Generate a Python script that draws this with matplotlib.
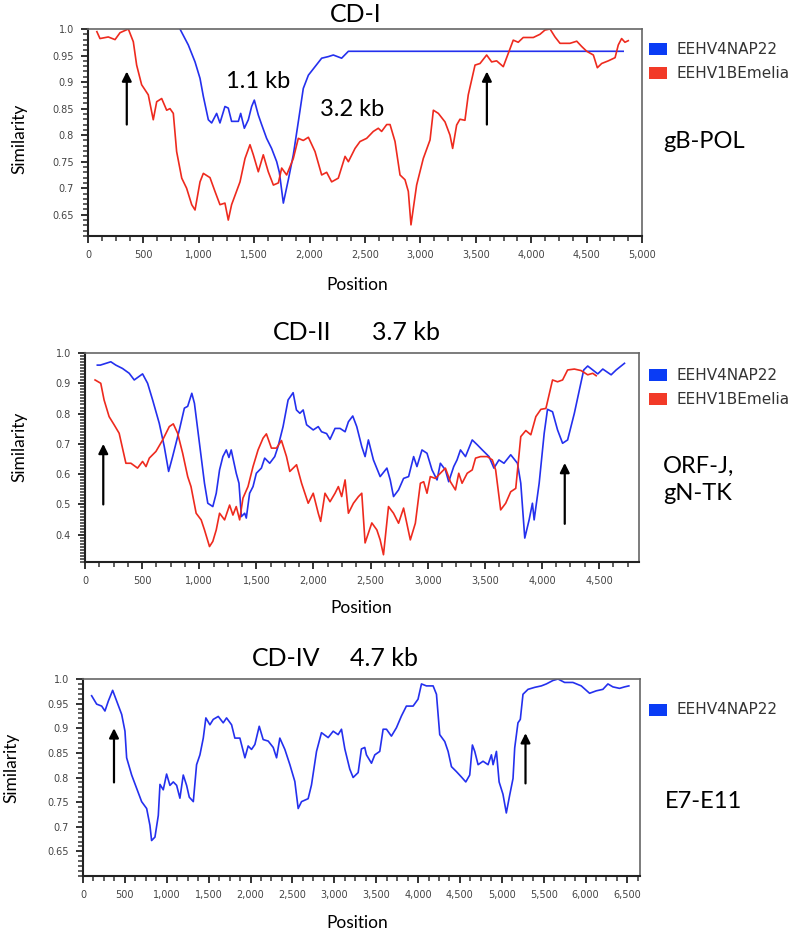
import matplotlib
matplotlib.use("Agg")
import matplotlib.pyplot as plt
from matplotlib.ticker import MultipleLocator, FuncFormatter, FixedLocator
from matplotlib.patches import Rectangle

# ---------------- data ----------------
# Panel CD-I (gB-POL)
cd1_blue_x = [830, 905, 966, 1011, 1041, 1086, 1116, 1161, 1191, 1236, 1266, 1296, 1357, 1378, 1411, 1447,
              1477, 1501, 1537, 1567, 1612, 1657, 1703, 1727, 1763, 1808, 1853, 1898, 1943, 1989, 2049,
              2109, 2169, 2214, 2289, 2350, 4830]
cd1_blue_y = [1.0, 0.97, 0.938, 0.907, 0.873, 0.829, 0.823, 0.841, 0.823, 0.854, 0.851, 0.826, 0.826, 0.841,
              0.813, 0.829, 0.854, 0.866, 0.838, 0.82, 0.794, 0.775, 0.75, 0.73, 0.672, 0.716, 0.763, 0.825,
              0.888, 0.913, 0.929, 0.945, 0.948, 0.951, 0.945, 0.958, 0.958]
cd1_red_x = [80, 108, 183, 244, 289, 364, 409, 439, 484, 544, 589, 620, 665, 710, 740, 770, 800, 846, 890,
             936, 966, 1011, 1041, 1101, 1146, 1191, 1236, 1266, 1296, 1372, 1417, 1462, 1492, 1537, 1582,
             1627, 1673, 1718, 1748, 1793, 1853, 1898, 1943, 1989, 2049, 2109, 2154, 2199, 2259, 2320,
             2350, 2410, 2455, 2515, 2575, 2620, 2650, 2696, 2726, 2771, 2816, 2861, 2891, 2915, 2936,
             2966, 3026, 3087, 3117, 3162, 3222, 3267, 3291, 3327, 3357, 3402, 3432, 3493, 3538, 3598,
             3643, 3688, 3748, 3793, 3838, 3883, 3928, 4019, 4079, 4124, 4170, 4215, 4260, 4350, 4411,
             4456, 4501, 4561, 4597, 4636, 4696, 4757, 4786, 4816, 4846, 4876]
cd1_red_y = [0.995, 0.982, 0.985, 0.98, 0.993, 1.0, 0.976, 0.932, 0.895, 0.876, 0.829, 0.863, 0.869, 0.847,
             0.85, 0.841, 0.769, 0.719, 0.70, 0.669, 0.659, 0.712, 0.728, 0.72, 0.694, 0.669, 0.672, 0.64,
             0.669, 0.712, 0.756, 0.782, 0.763, 0.731, 0.763, 0.731, 0.706, 0.71, 0.738, 0.725, 0.756,
             0.794, 0.79, 0.796, 0.769, 0.725, 0.73, 0.712, 0.719, 0.76, 0.75, 0.775, 0.788, 0.794, 0.807,
             0.813, 0.807, 0.82, 0.82, 0.788, 0.725, 0.716, 0.694, 0.631, 0.662, 0.706, 0.756, 0.791,
             0.847, 0.841, 0.825, 0.80, 0.775, 0.819, 0.83, 0.828, 0.876, 0.932, 0.935, 0.951, 0.938,
             0.94, 0.929, 0.954, 0.979, 0.975, 0.984, 0.984, 0.99, 0.998, 1.0, 0.985, 0.973, 0.973,
             0.977, 0.967, 0.958, 0.951, 0.927, 0.935, 0.94, 0.946, 0.97, 0.982, 0.975, 0.978]

# Panel CD-II (ORF-J, gN-TK)
cd2_blue_x = [108, 134, 226, 270, 328, 387, 431, 504, 548, 592, 650, 694, 732, 767, 826, 870, 899, 935,
              958, 1002, 1046, 1075, 1119, 1149, 1178, 1207, 1237, 1260, 1280, 1324, 1348, 1369, 1398,
              1412, 1441, 1471, 1500, 1544, 1573, 1617, 1661, 1690, 1734, 1778, 1822, 1851, 1881, 1910,
              1940, 1998, 2042, 2071, 2115, 2145, 2189, 2233, 2277, 2306, 2344, 2379, 2423, 2452, 2481,
              2525, 2584, 2643, 2672, 2701, 2745, 2789, 2833, 2877, 2906, 2950, 2994, 3038, 3082, 3111,
              3155, 3184, 3228, 3257, 3287, 3331, 3390, 3434, 3478, 3537, 3580, 3624, 3668, 3727, 3786,
              3815, 3850, 3888, 3917, 3932, 3976, 4020, 4049, 4093, 4137, 4181, 4225, 4284, 4328, 4366,
              4401, 4445, 4489, 4533, 4606, 4650, 4723]
cd2_blue_y = [0.96, 0.96, 0.971, 0.96, 0.949, 0.933, 0.911, 0.931, 0.90, 0.845, 0.768, 0.691, 0.609, 0.658,
              0.746, 0.818, 0.824, 0.867, 0.834, 0.702, 0.57, 0.504, 0.493, 0.537, 0.614, 0.658, 0.68,
              0.655, 0.68, 0.603, 0.57, 0.46, 0.471, 0.455, 0.537, 0.559, 0.603, 0.62, 0.653, 0.636,
              0.658, 0.691, 0.757, 0.845, 0.869, 0.812, 0.801, 0.812, 0.763, 0.746, 0.757, 0.74, 0.734,
              0.715, 0.751, 0.751, 0.74, 0.773, 0.792, 0.757, 0.691, 0.658, 0.713, 0.647, 0.592, 0.62,
              0.581, 0.526, 0.548, 0.586, 0.592, 0.658, 0.625, 0.68, 0.669, 0.614, 0.581, 0.636, 0.614,
              0.575, 0.625, 0.647, 0.68, 0.658, 0.713, 0.697, 0.68, 0.658, 0.62, 0.647, 0.636, 0.664,
              0.636, 0.57, 0.389, 0.449, 0.504, 0.449, 0.57, 0.735, 0.814, 0.806, 0.746, 0.702, 0.713,
              0.801, 0.878, 0.944, 0.957, 0.944, 0.931, 0.947, 0.928, 0.944, 0.966]
cd2_red_x = [88, 138, 167, 211, 255, 299, 358, 402, 460, 504, 534, 563, 621, 680, 738, 773, 811, 855, 899,
             928, 973, 1017, 1046, 1090, 1119, 1149, 1178, 1222, 1266, 1295, 1324, 1354, 1383, 1427, 1471,
             1515, 1559, 1588, 1632, 1676, 1720, 1764, 1793, 1852, 1896, 1954, 1998, 2042, 2063, 2101,
             2145, 2189, 2218, 2247, 2277, 2306, 2350, 2394, 2423, 2452, 2511, 2555, 2584, 2613, 2657,
             2701, 2745, 2789, 2848, 2892, 2936, 2965, 2994, 3023, 3067, 3111, 3155, 3199, 3243, 3272,
             3301, 3346, 3390, 3419, 3463, 3522, 3566, 3595, 3639, 3683, 3727, 3771, 3815, 3859, 3903,
             3947, 3991, 4035, 4093, 4137, 4181, 4225, 4284, 4343, 4401, 4445, 4475]
cd2_red_y = [0.911, 0.90, 0.845, 0.79, 0.763, 0.735, 0.636, 0.636, 0.62, 0.642, 0.625, 0.653, 0.675, 0.713,
             0.757, 0.766, 0.735, 0.669, 0.592, 0.559, 0.471, 0.449, 0.416, 0.361, 0.378, 0.416, 0.471,
             0.449, 0.498, 0.465, 0.493, 0.449, 0.521, 0.559, 0.625, 0.68, 0.719, 0.733, 0.686, 0.686,
             0.711, 0.658, 0.609, 0.631, 0.57, 0.504, 0.537, 0.471, 0.444, 0.537, 0.509, 0.537, 0.559,
             0.526, 0.581, 0.471, 0.504, 0.526, 0.537, 0.373, 0.439, 0.416, 0.383, 0.334, 0.493, 0.471,
             0.438, 0.488, 0.383, 0.438, 0.57, 0.575, 0.537, 0.592, 0.586, 0.603, 0.62, 0.575, 0.548,
             0.603, 0.57, 0.603, 0.614, 0.653, 0.658, 0.658, 0.647, 0.614, 0.482, 0.504, 0.542, 0.553,
             0.724, 0.744, 0.73, 0.79, 0.814, 0.817, 0.911, 0.905, 0.911, 0.944, 0.947, 0.942, 0.928,
             0.933, 0.925]

# Panel CD-IV (E7-E11)
cd4_blue_x = [103, 163, 223, 262, 302, 354, 402, 462, 501, 521, 581, 641, 700, 760, 799, 819, 859, 899,
              919, 958, 998, 1038, 1078, 1118, 1157, 1197, 1237, 1269, 1317, 1356, 1396, 1436, 1467, 1515,
              1555, 1615, 1674, 1714, 1774, 1813, 1873, 1933, 1972, 2012, 2052, 2104, 2151, 2211, 2271,
              2311, 2350, 2410, 2470, 2529, 2569, 2609, 2688, 2728, 2788, 2847, 2927, 2987, 3046, 3086,
              3126, 3185, 3225, 3285, 3324, 3364, 3384, 3444, 3484, 3543, 3583, 3623, 3682, 3742, 3802,
              3861, 3941, 4000, 4041, 4100, 4180, 4220, 4259, 4319, 4359, 4399, 4458, 4518, 4570, 4617,
              4649, 4677, 4717, 4776, 4836, 4876, 4896, 4936, 4968, 5014, 5054, 5094, 5134, 5154, 5193,
              5221, 5253, 5313, 5392, 5472, 5532, 5611, 5671, 5750, 5849, 5949, 6048, 6128, 6207, 6267,
              6326, 6406, 6466, 6517]
cd4_blue_y = [0.966, 0.949, 0.945, 0.935, 0.955, 0.977, 0.955, 0.928, 0.894, 0.84, 0.805, 0.778, 0.751,
              0.737, 0.703, 0.672, 0.679, 0.723, 0.786, 0.775, 0.807, 0.784, 0.791, 0.784, 0.758, 0.805,
              0.784, 0.76, 0.751, 0.826, 0.846, 0.88, 0.921, 0.907, 0.918, 0.924, 0.911, 0.921, 0.907,
              0.88, 0.88, 0.84, 0.864, 0.857, 0.867, 0.904, 0.877, 0.874, 0.861, 0.84, 0.88, 0.857, 0.826,
              0.792, 0.737, 0.751, 0.757, 0.785, 0.853, 0.891, 0.881, 0.894, 0.887, 0.898, 0.858, 0.817,
              0.80, 0.81, 0.858, 0.861, 0.846, 0.829, 0.846, 0.853, 0.898, 0.898, 0.884, 0.901, 0.925,
              0.945, 0.945, 0.959, 0.99, 0.986, 0.986, 0.969, 0.887, 0.873, 0.853, 0.822, 0.812, 0.801,
              0.791, 0.805, 0.866, 0.853, 0.826, 0.833, 0.826, 0.846, 0.826, 0.853, 0.791, 0.766, 0.728,
              0.764, 0.798, 0.86, 0.911, 0.918, 0.969, 0.979, 0.983, 0.986, 0.99, 0.997, 1.0, 0.993, 0.993,
              0.986, 0.971, 0.976, 0.979, 0.99, 0.984, 0.981, 0.984, 0.986]

series_names = ["EEHV4NAP22", "EEHV1BEmelia"]
titles = ["CD-I", "CD-II", "CD-IV"]
sizes = ["", "3.7 kb", "4.7 kb"]
regions = ["gB-POL", "ORF-J,\ngN-TK", "E7-E11"]

BLUE = "#2430ee"
RED = "#ee2a1e"
LBLUE = "#0a3cf5"
LRED = "#f23a28"

W, H = 800, 933
fig = plt.figure(figsize=(W / 100, H / 100), dpi=100)
fig.patch.set_facecolor("white")

LABEL_FONT = "Lato"


def fx(px):
    return px / W


def fy(py):
    return 1 - py / H


def make_ax(l, r, t, b):
    return fig.add_axes([fx(l), fy(b), fx(r) - fx(l), fy(t) - fy(b)])


def style(ax, xmax, ylo, yticks):
    ax.set_xlim(0, xmax)
    ax.set_ylim(ylo, 1.0)
    ax.xaxis.set_major_locator(MultipleLocator(500))
    ax.xaxis.set_minor_locator(MultipleLocator(125))
    ax.yaxis.set_major_locator(FixedLocator(yticks))
    ax.yaxis.set_minor_locator(MultipleLocator(0.01))
    ax.xaxis.set_major_formatter(FuncFormatter(lambda v, p: f"{int(round(v)):,}"))
    ax.yaxis.set_major_formatter(FuncFormatter(lambda v, p: "1.0" if abs(v - 1) < 1e-9 else f"{v:g}"))
    ax.tick_params(axis="both", which="major", direction="out", length=5, width=1.3,
                   labelsize=7, labelcolor="#444444", color="#222222", pad=5)
    ax.tick_params(axis="both", which="minor", direction="out", length=3.5, width=1.1, color="#333333")
    for s in ("left", "bottom"):
        ax.spines[s].set_color("#222222")
        ax.spines[s].set_linewidth(1.5)
    for s in ("top", "right"):
        ax.spines[s].set_color("#666666")
        ax.spines[s].set_linewidth(1.2)
    for lab in ax.get_xticklabels() + ax.get_yticklabels():
        lab.set_fontfamily("DejaVu Sans")


def arrow(ax, x, y0, y1):
    ax.annotate("", xy=(x, y1), xytext=(x, y0),
                arrowprops=dict(arrowstyle="-|>", color="black", lw=1.6, mutation_scale=14,
                                shrinkA=0, shrinkB=0))


def legend(entries, ys):
    for (name, col), yc in zip(entries, ys):
        fig.patches.append(Rectangle((fx(649), fy(yc + 6)), 18 / W, 12 / H, transform=fig.transFigure,
                                     facecolor=col, edgecolor="none"))
        fig.text(fx(677), fy(yc), name, fontsize=11, family="DejaVu Sans", color="#333333",
                 va="center", ha="left")


# ---- Panel 1 ----
ax1 = make_ax(88, 642, 29, 236)
ax1.plot(cd1_blue_x, cd1_blue_y, color=BLUE, lw=1.2)
ax1.plot(cd1_red_x, cd1_red_y, color=RED, lw=1.2)
style(ax1, 5000, 0.61, [0.65, 0.7, 0.75, 0.8, 0.85, 0.9, 0.95, 1.0])
arrow(ax1, 350, 0.82, 0.92)
arrow(ax1, 3600, 0.82, 0.92)
fig.text(fx(356), fy(15), titles[0], fontsize=18, family=LABEL_FONT, ha="center", va="center")
fig.text(fx(258), fy(82), "1.1 kb", fontsize=17, family=LABEL_FONT, ha="center", va="center")
fig.text(fx(352), fy(109), "3.2 kb", fontsize=17, family=LABEL_FONT, ha="center", va="center")
fig.text(fx(19), fy(139), "Similarity", fontsize=12.5, family=LABEL_FONT, rotation=90,
         ha="center", va="center")
fig.text(fx(357), fy(285), "Position", fontsize=12.5, family=LABEL_FONT, ha="center", va="center")
fig.text(fx(663), fy(142), regions[0], fontsize=17, family=LABEL_FONT, ha="left", va="center")
legend([(series_names[0], LBLUE), (series_names[1], LRED)], [49, 73])

# ---- Panel 2 ----
ax2 = make_ax(85, 639, 353, 562)
ax2.plot(cd2_blue_x, cd2_blue_y, color=BLUE, lw=1.2)
ax2.plot(cd2_red_x, cd2_red_y, color=RED, lw=1.2)
style(ax2, 4850, 0.31, [0.4, 0.5, 0.6, 0.7, 0.8, 0.9, 1.0])
arrow(ax2, 160, 0.50, 0.70)
arrow(ax2, 4200, 0.436, 0.637)
fig.text(fx(273), fy(333), titles[1], fontsize=18, family=LABEL_FONT, ha="left", va="center")
fig.text(fx(372), fy(333), sizes[1], fontsize=18, family=LABEL_FONT, ha="left", va="center")
fig.text(fx(19), fy(447), "Similarity", fontsize=12.5, family=LABEL_FONT, rotation=90,
         ha="center", va="center")
fig.text(fx(361), fy(608), "Position", fontsize=12.5, family=LABEL_FONT, ha="center", va="center")
fig.text(fx(663), fy(480), regions[1], fontsize=17, family=LABEL_FONT, ha="left", va="center",
         linespacing=1.35)
legend([(series_names[0], LBLUE), (series_names[1], LRED)], [375, 399])

# ---- Panel 3 ----
ax3 = make_ax(83, 640, 679, 876)
ax3.plot(cd4_blue_x, cd4_blue_y, color=BLUE, lw=1.2)
style(ax3, 6650, 0.60, [0.65, 0.7, 0.75, 0.8, 0.85, 0.9, 0.95, 1.0])
arrow(ax3, 370, 0.79, 0.90)
arrow(ax3, 5283, 0.788, 0.89)
fig.text(fx(252), fy(659), titles[2], fontsize=18, family=LABEL_FONT, ha="left", va="center")
fig.text(fx(350), fy(659), sizes[2], fontsize=18, family=LABEL_FONT, ha="left", va="center")
fig.text(fx(11), fy(768), "Similarity", fontsize=12.5, family=LABEL_FONT, rotation=90,
         ha="center", va="center")
fig.text(fx(357), fy(923), "Position", fontsize=12.5, family=LABEL_FONT, ha="center", va="center")
fig.text(fx(665), fy(802), regions[2], fontsize=17, family=LABEL_FONT, ha="left", va="center")
legend([(series_names[0], LBLUE)], [710])

fig.savefig("out.png", dpi=100, facecolor="white")
